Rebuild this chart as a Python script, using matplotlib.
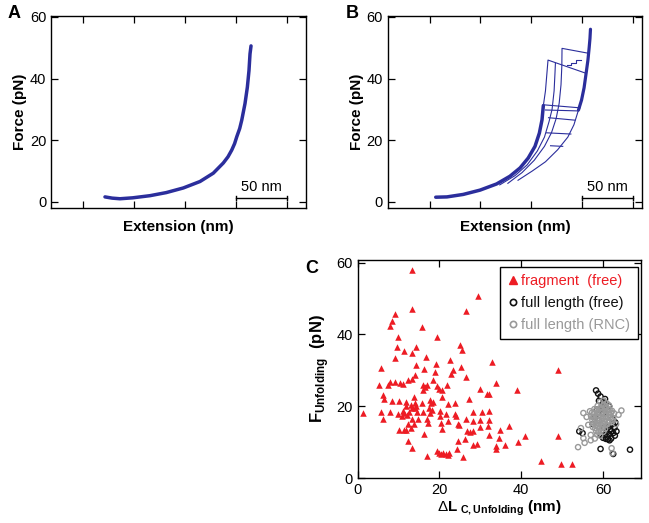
import matplotlib
matplotlib.use("Agg")
import matplotlib.pyplot as plt
from matplotlib.lines import Line2D

plt.rcParams["font.family"] = ["Liberation Sans", "DejaVu Sans"]
plt.rcParams["mathtext.fontset"] = "custom"
plt.rcParams["mathtext.rm"] = "Liberation Sans"
plt.rcParams["mathtext.bf"] = "Liberation Sans:bold"

TRACE = "#2b2e9c"

# panel A: single force-extension trace (extension nm, force pN)
a_ext = [52.9, 60.0, 67.6, 80.0, 97.1, 113.0, 129.7, 146.1, 159.1, 168.9,
         173.5, 177.2, 180.0, 182.1, 185.0, 187.0, 190.2, 192.5, 194.1, 195.1, 196.1]
a_force = [1.6, 1.2, 1.0, 1.3, 2.0, 3.0, 4.5, 6.6, 9.3, 12.6,
           14.6, 16.8, 18.9, 21.1, 23.8, 26.5, 31.9, 37.2, 42.6, 48.0, 50.6]

# panel B: overlaid pulls
b_folded_ext = [47.0, 58.0, 74.0, 90.6, 106.9, 120.0, 130.0, 138.0, 144.7, 149.0, 151.6, 152.9]
b_folded_force = [1.5, 1.6, 2.4, 3.8, 5.8, 8.3, 11.0, 14.2, 18.0, 22.3, 26.6, 31.2]
b_top1_ext = [152.9, 155.0, 156.5, 157.5, 195.0]
b_top1_force = [31.2, 36.0, 42.0, 46.0, 41.7]
b_pull2_ext = [110.0, 125.0, 137.0, 147.0, 154.0, 158.5, 161.5, 163.5, 164.4, 164.8]
b_pull2_force = [5.5, 8.5, 12.0, 16.5, 21.0, 26.0, 30.0, 36.0, 42.0, 45.0]
b_pull3_ext = [118.0, 132.0, 144.0, 154.0, 161.0, 165.5, 168.5, 170.3, 171.1, 171.3, 197.5]
b_pull3_force = [6.0, 9.5, 13.5, 18.0, 22.5, 27.0, 32.0, 38.0, 44.0, 49.8, 48.2]
b_unfolded_ext = [128.0, 142.0, 155.0, 167.0, 177.0, 183.0, 187.5, 190.5, 193.0, 195.0,
                  196.8, 198.0, 198.8, 199.3]
b_unfolded_force = [7.0, 10.0, 13.0, 16.9, 21.0, 25.0, 29.8, 33.0, 37.0, 41.7,
                    46.0, 50.0, 53.0, 56.0]
b_steps_ext = [175.9, 180.5, 180.5, 185.0, 185.0, 189.5]
b_steps_force = [44.4, 44.4, 45.2, 45.2, 46.1, 46.1]
b_jump_start = [152.6, 155.0, 158.0, 156.0, 160.0]
b_jump_end = [189.0, 187.5, 184.0, 180.0, 172.0]
b_jump_f0 = [31.5, 29.8, 27.3, 22.4, 18.2]
b_jump_f1 = [30.5, 29.5, 26.5, 22.0, 18.0]

# panel C: unfolding force vs contour length change
frag_pts = [
    (13.2, 57.8), (29.3, 50.8), (13.2, 47.0), (26.4, 46.6), (9.1, 45.7),
    (8.5, 43.6), (8.0, 42.4), (15.8, 42.0), (19.5, 39.2), (9.9, 39.4),
    (9.7, 36.4), (14.3, 36.4), (25.0, 37.0), (25.5, 35.7), (11.4, 35.4),
    (13.2, 34.8), (16.7, 33.8), (5.6, 30.7), (9.1, 33.4), (14.3, 31.5),
    (19.1, 31.7), (22.6, 32.9), (32.9, 32.3), (16.3, 30.3), (25.2, 30.9),
    (23.4, 30.0), (22.8, 29.0), (18.9, 29.4), (49.1, 30.0), (14.1, 28.8),
    (18.5, 27.4), (13.2, 27.6), (26.6, 28.0), (12.4, 27.2), (5.3, 25.8),
    (7.9, 26.6), (7.5, 25.8), (9.0, 26.6), (10.4, 26.4), (11.0, 26.2),
    (15.9, 25.8), (16.5, 25.3), (17.0, 25.9), (19.5, 25.5), (19.9, 24.9),
    (20.5, 24.4), (21.8, 26.0), (15.9, 24.6), (33.9, 26.4), (30.0, 24.9),
    (31.6, 23.5), (32.1, 23.5), (39.0, 24.4), (6.3, 23.2), (6.4, 22.0),
    (8.4, 21.5), (10.2, 21.5), (11.8, 21.1), (13.7, 22.5), (14.1, 20.9),
    (14.3, 20.0), (15.7, 20.8), (17.8, 21.7), (18.0, 20.9), (18.5, 21.3),
    (20.5, 22.7), (22.1, 20.5), (23.7, 20.8), (27.2, 22.0), (11.7, 20.1),
    (14.0, 19.6), (13.3, 19.5), (14.6, 18.5), (12.5, 18.4), (13.0, 20.3),
    (15.9, 18.5), (17.4, 19.5), (17.7, 18.1), (18.2, 19.0), (20.2, 18.8),
    (21.6, 17.9), (23.8, 17.9), (24.0, 17.4), (28.3, 18.3), (30.3, 18.3),
    (32.2, 18.6), (1.4, 18.1), (5.6, 18.3), (7.9, 18.4), (11.0, 18.7),
    (11.3, 18.1), (12.0, 17.5), (10.8, 17.2), (9.9, 17.8), (6.3, 16.5),
    (13.3, 16.3), (14.7, 16.5), (17.0, 16.4), (20.1, 17.2), (22.2, 16.0),
    (24.5, 15.0), (26.4, 16.5), (29.8, 16.2), (32.1, 16.1), (12.4, 15.0),
    (13.8, 15.0), (17.1, 15.2), (20.4, 15.3), (24.7, 14.7), (28.3, 15.9),
    (31.8, 14.5), (10.2, 13.5), (11.3, 13.3), (11.8, 13.3), (13.0, 13.9),
    (16.2, 12.3), (20.5, 13.7), (26.7, 13.0), (27.5, 12.7), (28.1, 13.0),
    (29.9, 14.1), (34.8, 13.3), (37.0, 14.6), (32.2, 12.1), (34.6, 11.1),
    (41.0, 11.6), (49.0, 11.6), (12.4, 10.2), (24.5, 10.2), (26.3, 10.9),
    (28.2, 9.3), (29.1, 9.4), (33.8, 9.0), (33.8, 8.1), (36.0, 9.3),
    (39.1, 10.0), (13.2, 8.3), (24.2, 8.1), (22.3, 7.1), (19.3, 7.4),
    (20.0, 7.1), (20.9, 6.9), (21.7, 6.8), (22.1, 6.5), (20.4, 6.6),
    (16.9, 6.0), (25.8, 5.8), (44.9, 4.8), (49.7, 3.9), (52.5, 4.0),
]
free_pts = [
    (58.3, 24.4), (59.4, 22.7), (59.0, 21.5), (60.2, 21.0), (59.8, 20.0),
    (54.2, 13.0), (55.0, 12.5), (60.5, 12.0), (61.0, 11.5), (61.5, 12.3),
    (62.0, 11.0), (60.8, 13.0), (61.8, 13.5), (62.5, 12.5), (62.8, 14.0),
    (63.0, 15.5), (62.3, 16.5), (61.2, 10.8), (60.0, 11.2), (59.5, 12.0),
    (62.0, 13.0), (61.3, 14.2), (60.3, 14.0), (63.3, 13.0), (59.4, 8.1),
    (62.5, 6.7), (66.6, 7.9), (57.5, 15.0), (58.0, 17.0), (58.5, 19.0),
    (59.0, 16.0), (60.0, 18.0), (61.0, 19.0), (61.5, 20.0), (60.5, 22.0),
    (58.8, 23.5), (62.9, 11.8), (61.6, 10.5), (60.7, 10.9), (62.4, 15.0),
]
rnc_pts = [
    (59.3, 21.2), (60.1, 21.6), (60.9, 20.8), (58.7, 20.1), (59.6, 19.7),
    (60.2, 20.4), (60.7, 19.9), (61.4, 20.3), (57.9, 19.2), (58.4, 18.9),
    (59.2, 19.4), (59.8, 19.0), (60.4, 19.3), (61.0, 18.8), (61.6, 19.1),
    (62.2, 18.7), (56.8, 18.6), (57.3, 18.2), (57.7, 17.9), (58.5, 18.3),
    (59.0, 18.0), (59.7, 18.4), (60.3, 17.8), (60.8, 18.1), (61.5, 17.7),
    (62.0, 18.2), (62.7, 18.0), (57.1, 17.2), (57.6, 16.9), (58.3, 17.3),
    (58.9, 16.8), (59.5, 17.1), (60.0, 16.7), (60.6, 17.2), (61.3, 16.9),
    (61.9, 17.0), (62.5, 16.6), (57.4, 16.1), (58.0, 15.8), (58.6, 16.2),
    (59.1, 15.9), (59.8, 16.3), (60.4, 15.7), (61.1, 16.0), (61.6, 15.6),
    (62.2, 16.2), (57.7, 15.1), (58.3, 14.8), (58.9, 15.2), (59.5, 14.9),
    (60.1, 15.0), (60.7, 14.7), (61.3, 15.3), (57.5, 14.2), (58.1, 13.9),
    (58.7, 14.3), (59.3, 13.8), (59.9, 14.1), (60.5, 13.7), (58.3, 13.1),
    (58.9, 12.8), (59.5, 13.2), (60.1, 12.9), (58.6, 12.1), (59.3, 11.8),
    (53.9, 8.6), (55.5, 9.8), (55.2, 11.1), (54.6, 13.9), (62.1, 8.3),
    (62.3, 6.9), (64.5, 18.8), (63.8, 17.6), (55.2, 18.1), (56.0, 17.0),
    (56.4, 14.8), (57.0, 12.0), (58.0, 11.0), (63.2, 15.0), (57.0, 10.5),
]
legend_labels = ["fragment  (free)", "full length (free)", "full length (RNC)"]
legend_colors = ["#ed1c24", "#111111", "#999999"]


def style_box(ax):
    ax.tick_params(direction="in", top=True, right=True, length=5, width=0.9, labelsize=10.5)
    for s in ax.spines.values():
        s.set_linewidth(1.0)


def scale_bar(ax, x0, x1, y):
    ax.plot([x0, x1], [y, y], color="black", lw=1.0)
    for xx in (x0, x1):
        ax.plot([xx, xx], [y - 0.7, y + 0.7], color="black", lw=1.0)
    ax.text((x0 + x1) / 2, y + 1.3, "50 nm", ha="center", va="bottom", fontsize=10.5)


def thin(ax, xs, ys):
    ax.plot(xs, ys, color=TRACE, lw=0.8, solid_joinstyle="round")


fig = plt.figure(figsize=(6.49, 5.23), dpi=100)

axA = fig.add_axes([0.0786, 0.6023, 0.3929, 0.3671])
axA.plot(a_ext, a_force, color=TRACE, lw=2.5, solid_capstyle="round", solid_joinstyle="round")
axA.set_xlim(0, 250)
axA.set_ylim(-2, 60.3)
axA.set_xticks([31, 81, 131, 181, 231])
axA.set_xticklabels([])
axA.set_yticks([0, 20, 40, 60])
scale_bar(axA, 181, 231, 1.3)
axA.set_xlabel("Extension (nm)", fontsize=11, fontweight="bold", labelpad=5)
axA.set_ylabel("Force (pN)", fontsize=11, fontweight="bold", labelpad=2)
style_box(axA)
fig.text(0.012, 0.965, "A", fontsize=13, fontweight="bold")

axB = fig.add_axes([0.5978, 0.6023, 0.3914, 0.3671])
thin(axB, b_pull2_ext, b_pull2_force)
thin(axB, b_pull3_ext, b_pull3_force)
thin(axB, b_unfolded_ext, b_unfolded_force)
thin(axB, b_top1_ext, b_top1_force)
thin(axB, b_steps_ext, b_steps_force)
for x0, x1, f0, f1 in zip(b_jump_start, b_jump_end, b_jump_f0, b_jump_f1):
    thin(axB, [x0, x1], [f0, f1])
axB.plot(b_folded_ext, b_folded_force, color=TRACE, lw=2.5,
         solid_capstyle="round", solid_joinstyle="round")
axB.plot(b_unfolded_ext[6:], b_unfolded_force[6:], color=TRACE, lw=2.3,
         solid_capstyle="round", solid_joinstyle="round")
axB.set_xlim(0, 250)
axB.set_ylim(-2, 60.3)
axB.set_xticks([41, 91, 141, 191, 241])
axB.set_xticklabels([])
axB.set_yticks([0, 20, 40, 60])
scale_bar(axB, 191, 241, 1.3)
axB.set_xlabel("Extension (nm)", fontsize=11, fontweight="bold", labelpad=5)
axB.set_ylabel("Force (pN)", fontsize=11, fontweight="bold", labelpad=2)
style_box(axB)
fig.text(0.533, 0.965, "B", fontsize=13, fontweight="bold")

axC = fig.add_axes([0.5512, 0.0860, 0.4365, 0.4168])
axC.scatter([p[0] for p in frag_pts], [p[1] for p in frag_pts], marker="^",
            s=22, color=legend_colors[0], linewidths=0, zorder=3)
axC.scatter([p[0] for p in free_pts], [p[1] for p in free_pts], marker="o",
            s=14, facecolors="none", edgecolors=legend_colors[1], linewidths=1.0, zorder=3)
axC.scatter([p[0] for p in rnc_pts], [p[1] for p in rnc_pts], marker="o",
            s=14, facecolors="none", edgecolors=legend_colors[2], linewidths=1.0, zorder=4)
axC.set_xlim(0, 69.3)
axC.set_ylim(0, 60.7)
axC.set_xticks([0, 20, 40, 60])
axC.set_yticks([0, 20, 40, 60])
axC.set_xlabel(r"$\Delta\mathbf{L}_{\ \mathbf{C,Unfolding}}$ (nm)", fontsize=11,
               fontweight="bold", labelpad=1)
axC.set_ylabel(r"$\mathbf{F}_{\mathbf{Unfolding}}$  (pN)", fontsize=12,
               fontweight="bold", labelpad=4)
style_box(axC)
handles = [
    Line2D([], [], marker="^", ls="none", color=legend_colors[0], markersize=6),
    Line2D([], [], marker="o", ls="none", markerfacecolor="none",
           markeredgecolor=legend_colors[1], markersize=4.5, markeredgewidth=1.2),
    Line2D([], [], marker="o", ls="none", markerfacecolor="none",
           markeredgecolor=legend_colors[2], markersize=4.5, markeredgewidth=1.2),
]
leg = axC.legend(handles, legend_labels, loc="upper right", bbox_to_anchor=(0.988, 0.969),
                 borderaxespad=0, fontsize=10.5, handlelength=0.7, handletextpad=0.25,
                 borderpad=0.5, labelspacing=0.55, fancybox=False, framealpha=1,
                 edgecolor="black", labelcolor=legend_colors)
leg.get_frame().set_linewidth(1.0)
fig.text(0.470, 0.478, "C", fontsize=13, fontweight="bold")

fig.savefig("out.png", dpi=100)
